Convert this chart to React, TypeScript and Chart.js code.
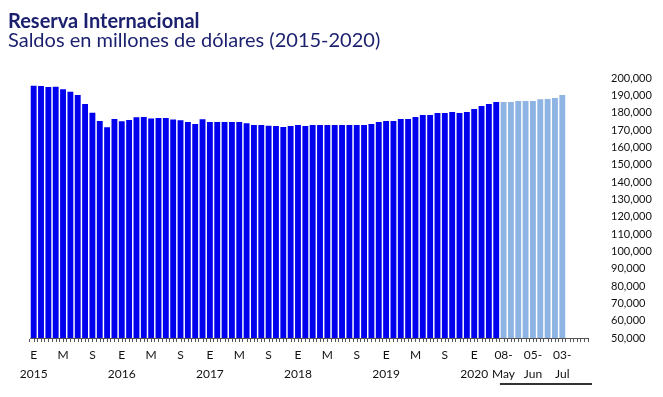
import React, { useEffect, useRef } from "react";
import { Chart, registerables } from "chart.js";
Chart.register(...registerables);

// ---- data (millones de dólares) ----
const years = [2015, 2016, 2017, 2018, 2019, 2020];
const monthInitials = ["E", "F", "M", "A", "M", "J", "J", "A", "S", "O", "N", "D"];
const reserves2015 = [195600, 195400, 194800, 195000, 193500, 192100, 190200, 185000, 180000, 175200, 171600, 176400];
const reserves2016 = [175000, 175800, 177300, 177500, 176700, 176900, 176900, 176000, 175600, 174600, 173500, 176200];
const reserves2017 = [174600, 174600, 174600, 174600, 174600, 173900, 172900, 172900, 172400, 172300, 171700, 172300];
const reserves2018 = [172900, 172300, 172900, 172900, 172900, 172900, 172900, 172900, 172900, 172900, 173500, 174600];
const reserves2019 = [175200, 175200, 176400, 176400, 177500, 178700, 178700, 179800, 179800, 180400, 179800, 180400];
const reserves2020 = [182100, 183900, 185000, 186200];
const weeklyDates = ["08-May", "15-May", "22-May", "29-May", "05-Jun", "12-Jun", "19-Jun", "26-Jun", "03-Jul"];
const weeklyValues = [186200, 186200, 186700, 186700, 186700, 187700, 187900, 188500, 190200];
const trailingBlankCategories = 3;
const yTickMin = 50000;
const yTickMax = 200000;
const yTickStep = 10000;

const monthlySeries = [reserves2015, reserves2016, reserves2017, reserves2018, reserves2019, reserves2020];

const DARK = "#0000EE";
const LIGHT = "#8EB4E3";

export default function App() {
  const ref = useRef<HTMLCanvasElement | null>(null);

  useEffect(() => {
    const labels: (string | string[])[] = [];
    const values: (number | null)[] = [];
    const colors: string[] = [];
    let idx = 0;
    monthlySeries.forEach((arr, yi) => {
      arr.forEach((v, m) => {
        if (idx % 4 === 0) labels.push([monthInitials[m], m === 0 ? String(years[yi]) : ""]);
        else labels.push("");
        values.push(v);
        colors.push(DARK);
        idx++;
      });
    });
    const weeklyStart = idx;
    weeklyDates.forEach((d, wi) => {
      if (wi % 4 === 0) {
        const [day, mon] = d.split("-");
        labels.push([day + "-", mon]);
      } else labels.push("");
      values.push(weeklyValues[wi]);
      colors.push(LIGHT);
    });
    for (let i = 0; i < trailingBlankCategories; i++) {
      labels.push("");
      values.push(null);
      colors.push(LIGHT);
    }
    const total = labels.length;

    const decor = {
      id: "decor",
      afterDraw(chart: any) {
        const xs = chart.scales.x;
        const ctx = chart.ctx;
        const bottom = chart.chartArea.bottom;
        ctx.save();
        ctx.strokeStyle = "#555";
        ctx.lineWidth = 1;
        ctx.beginPath();
        for (let i = 0; i < total; i++) {
          const x = Math.round(xs.getPixelForValue(i)) + 0.5;
          ctx.moveTo(x, bottom);
          ctx.lineTo(x, bottom + 4);
        }
        ctx.stroke();
        // underline below weekly labels
        const half = (xs.getPixelForValue(1) - xs.getPixelForValue(0)) / 2;
        const x0 = xs.getPixelForValue(weeklyStart) - half;
        const x1 = xs.right + 4;
        ctx.strokeStyle = "#333";
        ctx.lineWidth = 2;
        ctx.beginPath();
        ctx.moveTo(x0, bottom + 46);
        ctx.lineTo(x1, bottom + 46);
        ctx.stroke();
        ctx.restore();
      },
    };

    const chart = new Chart(ref.current as HTMLCanvasElement, {
      type: "bar",
      data: {
        labels,
        datasets: [
          {
            data: values,
            backgroundColor: colors,
            borderWidth: 0,
            barPercentage: 0.8,
            categoryPercentage: 1.0,
          },
        ],
      },
      options: {
        animation: false,
        responsive: false,
        maintainAspectRatio: false,
        layout: { padding: { left: 30, top: 78, right: 0, bottom: 0 } },
        plugins: { legend: { display: false }, tooltip: { enabled: false }, title: { display: false } },
        scales: {
          x: {
            offset: true,
            grid: {
              display: true,
              drawOnChartArea: false,
              drawTicks: true,
              tickLength: 4,
              color: "#555",
              offset: true,
            },
            border: { display: true, color: "#555", width: 1 },
            ticks: {
              autoSkip: false,
              maxRotation: 0,
              minRotation: 0,
              padding: 4,
              color: "#111",
              font: { family: "Lato", size: 12, lineHeight: 1.55 },
            },
            afterFit: (s: any) => {
              s.height = 59;
            },
          },
          y: {
            position: "right",
            min: yTickMin,
            max: yTickMax,
            grid: { display: false, drawTicks: false },
            border: { display: false },
            ticks: {
              stepSize: yTickStep,
              padding: 23,
              color: "#111",
              font: { family: "Lato", size: 11 },
              callback: (v: any) => Number(v).toLocaleString("en-US"),
            },
            afterFit: (s: any) => {
              s.width = 75;
            },
          },
        },
      } as any,
      plugins: [decor],
    });
    return () => chart.destroy();
  }, []);

  return (
    <div style={{ position: "fixed", left: 0, top: 0, width: 663, height: 397, background: "#fff" }}>
      <div
        style={{
          position: "absolute",
          left: 8,
          top: 9,
          fontFamily: "Lato",
          fontWeight: 700,
          fontSize: 20,
          lineHeight: "22px",
          color: "#1a1f6e",
          whiteSpace: "nowrap",
        }}
      >
        Reserva Internacional
      </div>
      <div
        style={{
          position: "absolute",
          left: 8,
          top: 28,
          fontFamily: "Lato",
          fontSize: 20,
          lineHeight: "22px",
          color: "#1a1f6e",
          whiteSpace: "nowrap",
        }}
      >
        Saldos en millones de dólares (2015-2020)
      </div>
      <canvas ref={ref} width={663} height={397} style={{ display: "block" }} />
    </div>
  );
}
